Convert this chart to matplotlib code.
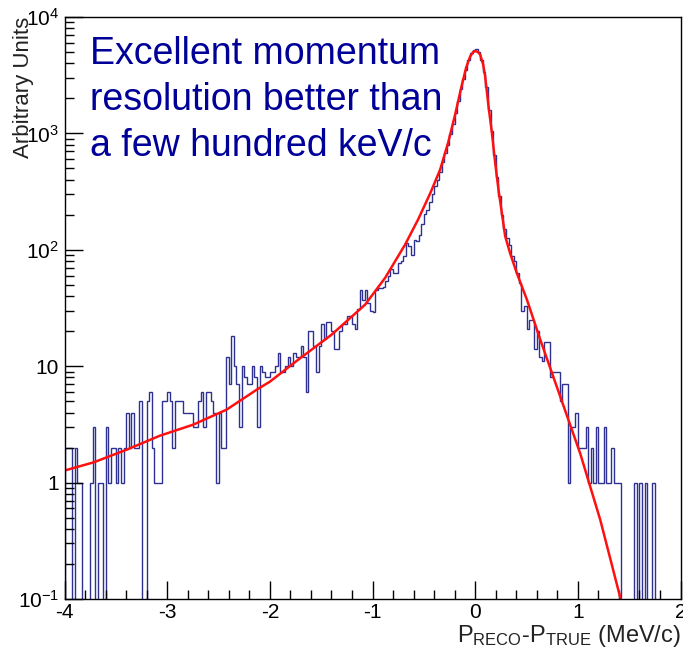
import numpy as np
import matplotlib
matplotlib.use('Agg')
import matplotlib.pyplot as plt
from matplotlib.ticker import FixedLocator, LogLocator, MultipleLocator, NullFormatter

plt.rcParams['font.family'] = ['Liberation Sans', 'DejaVu Sans']
plt.rcParams['mathtext.fontset'] = 'custom'
plt.rcParams['mathtext.rm'] = 'Liberation Sans'
plt.rcParams['mathtext.it'] = 'Liberation Sans'
plt.rcParams['axes.unicode_minus'] = False

# histogram: 240 bins of 0.025 MeV/c from -4 to 2
x_lo = -4.0
x_hi = 2.0
counts_tail_left = [2, 2, 2, 0, 2, 1, 1, 0, 0, 0,
                    1, 3, 0, 1, 1, 0, 3, 1, 2, 2,
                    1, 2, 1, 2, 4, 2, 4, 2, 2, 5,
                    0, 0, 5, 6, 2, 1, 1, 1, 5, 5,
                    6, 5, 2, 5, 5, 5, 4, 4, 4, 4,
                    3, 3, 5, 6, 3, 6, 6, 5, 4, 1,
                    4, 2, 2, 12, 7, 18, 10, 7, 3, 10,
                    8, 7, 7, 10, 8, 3, 10, 9, 8, 8]
counts_rise = [9, 9, 10, 13, 9, 9, 10, 12, 10, 13,
               12, 12, 15, 12, 6, 20, 20, 15, 9, 15,
               23, 17, 24, 24, 20, 14, 14, 20, 23, 23,
               27, 27, 23, 21, 31, 45, 37, 45, 35, 30,
               29, 45, 47, 47, 48, 54, 59, 68, 63, 63]
counts_peak = [77, 80, 88, 114, 107, 90, 122, 118, 135, 165,
               205, 220, 255, 300, 350, 400, 470, 570, 680, 800,
               980, 1200, 1500, 1900, 2400, 2950, 3500, 4300, 4900, 5200,
               5300, 5000, 4300, 3400, 2500, 1600, 1050, 650, 420, 290]
counts_tail_right = [200, 150, 127, 110, 88, 80, 63, 52, 30, 33,
                     21, 25, 25, 14, 20, 12, 11, 16, 16, 8,
                     9, 9, 9, 5, 7, 7, 1, 3, 3, 4,
                     2, 2, 2, 3, 1, 2, 1, 3, 1, 1,
                     3, 1, 1, 2, 1, 1, 1, 0, 0, 0,
                     0, 0, 1, 0, 1, 0, 1, 0, 0, 1,
                     0, 0, 0, 0, 0, 0, 0, 0, 0, 0]

# fitted function, sampled from the figure
fit_x = [-4.0, -3.719, -3.393, -3.07, -2.745, -2.42, -2.127, -1.998, -1.722, -1.397,
         -1.072, -0.877, -0.682, -0.556, -0.439, -0.341, -0.263, -0.195, -0.136, -0.088,
         -0.049, -0.02, 0.0, 0.024, 0.049, 0.078, 0.097, 0.13, 0.163, 0.195,
         0.227, 0.26, 0.292, 0.341, 0.406, 0.504, 0.634, 0.829, 1.023, 1.218,
         1.316, 1.413, 1.462]
fit_y = [1.27, 1.49, 1.92, 2.53, 3.15, 4.24, 6.29, 7.38, 11.4, 18.7,
         33.8, 57.4, 111, 182, 304, 489, 834, 1452, 2473, 3675,
         4570, 5000, 5100, 5020, 4750, 3900, 3100, 1710, 1010, 558,
         329, 207, 131, 93, 63, 37.3, 16.9, 5.48, 1.78, 0.48,
         0.222, 0.103, 0.069]

yticks = [0.1, 1, 10, 100, 1000, 10000]
ytick_labels = ['$10^{-1}$', '1', '10', '$10^{2}$', '$10^{3}$', '$10^{4}$']

counts = np.array(counts_tail_left + counts_rise + counts_peak + counts_tail_right, dtype=float)
edges = np.linspace(x_lo, x_hi, len(counts) + 1)

fig = plt.figure(figsize=(6.83, 6.49), dpi=100)
ax = fig.add_axes([64.5 / 683, 1 - 599 / 649, (680.5 - 64.5) / 683, (599 - 17) / 649])

# empty bins drop to the bottom of the frame like ROOT does
shown = np.where(counts > 0, counts, 1e-3)
ax.stairs(shown, edges, baseline=1e-3, fill=False, color='#2e3192', lw=1.0)
ax.plot(fit_x, fit_y, color='#ff1010', lw=1.8)

ax.set_yscale('log')
ax.set_xlim(x_lo, x_hi)
ax.set_ylim(0.1, 1e4)

ax.xaxis.set_major_locator(MultipleLocator(1))
ax.xaxis.set_minor_locator(MultipleLocator(0.2))
ax.yaxis.set_major_locator(FixedLocator(yticks))
ax.set_yticklabels(ytick_labels)
ax.yaxis.set_minor_locator(LogLocator(base=10, subs=np.arange(2, 10)))
ax.yaxis.set_minor_formatter(NullFormatter())

ax.tick_params(which='both', direction='in', top=False, right=False, labelsize=15)
ax.tick_params(which='major', length=13, width=1)
ax.tick_params(which='minor', length=6.5, width=1)
ax.tick_params(axis='x', pad=3)
ax.tick_params(axis='y', pad=4)
for s in ax.spines.values():
    s.set_linewidth(1)

fig.text(23 / 683, 1 - 17 / 649, 'Arbitrary Units', rotation=90, ha='center', va='top',
         fontsize=16, color='#222222')
fig.text(681 / 683, 1 - 636 / 649, r'P$_{\rm RECO}$-P$_{\rm TRUE}$ (MeV/c)',
         ha='right', va='center', fontsize=17, color='#222222')

ax.text(0.042, 0.967, 'Excellent momentum\nresolution better than\na few hundred keV/c',
        transform=ax.transAxes, ha='left', va='top', fontsize=27, color='#000099',
        linespacing=1.35)

fig.savefig('out.png', dpi=100)
